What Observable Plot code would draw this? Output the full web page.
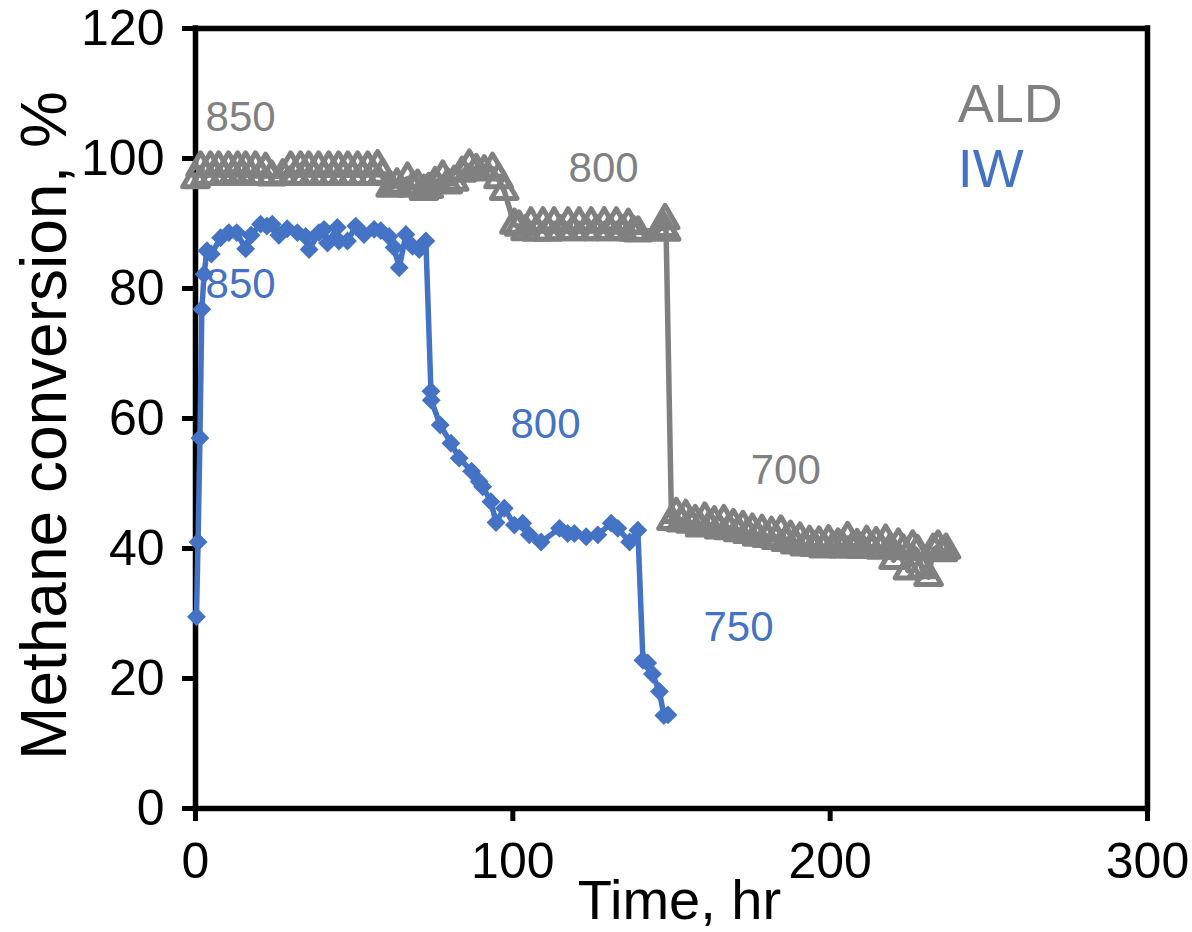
<!DOCTYPE html>
<html>
<head>
<meta charset="utf-8">
<script src="https://cdn.jsdelivr.net/npm/d3@7"></script>
<script src="https://cdn.jsdelivr.net/npm/@observablehq/plot@0.6"></script>
<style>
  html, body { margin: 0; padding: 0; background: white; }
  #chart { width: 1192px; height: 932px; }
  #chart [aria-label="y-axis tick"], #chart [aria-label="x-axis tick"] { stroke-width: 5px; }
</style>
</head>
<body>
<div id="chart"></div>
<script>
// ---- data ----
const xTicks = [0, 100, 200, 300];
const yTicks = [0, 20, 40, 60, 80, 100, 120];
const xDomain = [0, 300];
const yDomain = [0, 120];

const iwTime = [0.3, 0.8, 1.4, 2.0, 2.7, 3.6, 5.0, 7.9, 10.5, 13.0, 15.8, 17.5, 20.5, 22.5, 24.2, 26.3, 28.9, 32.1, 34.7, 35.8, 38.9, 40.5, 41.6, 44.7, 45.2, 47.9, 50.5, 53.1, 56.3, 58.4, 61.0, 62.6, 64.2, 66.3, 68.4, 70.5, 72.6, 74.2, 74.3, 77.1, 80.5, 83.1, 87.0, 89.4, 90.5, 93.1, 94.7, 97.3, 100.5, 103.1, 105.2, 108.9, 114.7, 117.3, 119.4, 123.1, 126.8, 131.0, 133.1, 136.8, 139.4, 141.0, 142.5, 144.0, 146.2, 147.6, 148.9];
const iwConv = [29.5, 41.0, 57.0, 76.8, 82.2, 85.8, 85.3, 87.8, 88.6, 88.6, 86.1, 88.2, 89.9, 89.6, 89.9, 88.2, 89.2, 88.6, 88.0, 86.0, 88.6, 89.1, 87.0, 89.4, 87.3, 87.3, 89.6, 88.3, 89.1, 88.9, 88.0, 86.3, 83.2, 88.3, 86.5, 86.0, 87.3, 64.2, 62.8, 59.0, 56.2, 53.9, 51.9, 50.3, 49.5, 47.2, 44.0, 46.2, 43.6, 43.9, 42.1, 41.0, 43.1, 42.3, 42.3, 41.8, 42.1, 43.9, 43.1, 41.0, 42.8, 22.8, 22.4, 20.7, 18.0, 14.3, 14.4];

const aldTime = [0, 1.6, 3.2, 4.7, 6.0, 7.3, 9.0, 10.4, 12.0, 13.3, 14.5, 15.8, 17.3, 18.9, 20.5, 22.1, 24.0, 27.5, 30.0, 31.5, 33.1, 34.5, 35.7, 37.2, 38.8, 40.5, 42.0, 43.5, 45.1, 46.5, 48.0, 49.5, 51.1, 52.7, 54.3, 56.0, 57.4, 59.0,
  61.5, 63.5, 66.8, 68.5, 70.0, 72.0, 73.5, 75.5, 77.9, 79.5, 81.5, 84.0, 86.3, 88.5, 91.0, 93.6, 95.5, 97.3, 100.5,
  102.0, 104.0, 105.7, 107.5, 109.5, 111.0, 113.0, 115.0, 117.4, 119.0, 120.9, 123.0, 124.7, 126.5, 128.8, 130.5, 132.6, 134.5, 136.4, 138.0, 139.5, 147.5, 148.0, 148.3,
  150.0, 151.5, 153.0, 154.5, 156.0, 157.5, 159.0, 160.5, 162.0, 163.5, 165.0, 166.5, 168.0, 169.5, 171.0, 172.5, 174.0, 175.5, 177.0, 178.5, 180.0, 181.5, 183.0, 184.5, 186.0, 187.5, 189.0, 190.5, 192.0, 193.5, 195.0, 196.5, 198.0, 199.5, 201.0, 202.5, 204.0, 205.5, 207.0, 208.5, 210.0, 211.5, 213.0, 214.5, 216.0, 217.5, 219.0, 220.0, 221.5, 223.0, 224.5, 226.0, 227.5, 229.0, 231.0, 232.5, 234.0, 235.5, 236.5];
const aldConv = [96.8, 98.6, 97.3, 98.6, 97.3, 98.6, 97.3, 98.6, 97.3, 98.6, 97.3, 98.6, 97.3, 98.6, 97.3, 98.4, 97.2, 97.4, 98.6, 97.3, 98.6, 97.3, 98.6, 97.3, 98.6, 97.3, 98.6, 97.3, 98.6, 97.3, 98.6, 97.3, 98.6, 97.3, 98.6, 97.3, 98.8, 97.5,
  95.5, 96.0, 96.9, 95.5, 95.8, 95.0, 95.3, 96.2, 97.2, 96.0, 96.4, 97.8, 98.9, 98.2, 98.0, 98.4, 96.8, 95.0, 89.8,
  89.5, 88.8, 90.0, 88.7, 90.0, 88.7, 90.0, 88.8, 90.0, 88.8, 90.0, 88.8, 90.0, 88.8, 90.0, 88.8, 90.0, 88.8, 89.8, 88.7, 88.6, 89.3, 90.5, 88.7,
  44.2, 45.3, 44.0, 45.0, 43.8, 44.2, 43.2, 44.6, 43.4, 44.0, 42.9, 44.2, 42.8, 43.6, 42.5, 43.3, 42.2, 42.9, 41.8, 42.7, 41.6, 42.4, 41.3, 42.6, 41.0, 41.8, 40.6, 41.5, 40.3, 41.0, 40.2, 40.9, 40.0, 41.1, 40.1, 40.6, 40.0, 41.6, 40.0, 40.5, 39.9, 41.0, 40.0, 40.8, 39.8, 41.2, 39.9, 38.2, 40.6, 39.7, 36.6, 40.3, 39.6, 36.8, 35.6, 39.8, 40.3, 39.4, 39.8];

const annText = ["850", "800", "700", "850", "800", "750"];
const annX = [14.2, 128.6, 186.0, 14.2, 110.3, 171.1];
const annY = [106.3, 98.5, 52.0, 80.6, 59.1, 27.8];
const annSeries = ["ALD", "ALD", "ALD", "IW", "IW", "IW"];

const legendNames = ["ALD", "IW"];
const legendX = [240.2, 240.2];
const legendY = [108.3, 98.2];

const xLabel = "Time, hr";
const yLabel = "Methane conversion, %";

// ---- build ----
const BLUE = "#4472C4";
const GRAY = "#808080";
const colorOf = s => s === "IW" ? BLUE : GRAY;

const iw = iwTime.map((t, i) => ({t, v: iwConv[i]}));
const ald = aldTime.map((t, i) => ({t, v: aldConv[i]}));
const ann = annText.map((s, i) => ({s, x: annX[i], y: annY[i], c: colorOf(annSeries[i])}));
const leg = legendNames.map((s, i) => ({s, x: legendX[i], y: legendY[i], c: colorOf(s)}));

const FONT = "'Liberation Sans', Arial, Helvetica, sans-serif";

const chart = Plot.plot({
  width: 1192,
  height: 932,
  marginLeft: 195,
  marginRight: 45,
  marginTop: 28,
  marginBottom: 124,
  style: {fontFamily: FONT, fontSize: "50px", color: "black", background: "white", overflow: "visible"},
  x: {domain: xDomain},
  y: {domain: yDomain},
  marks: [
    Plot.axisY({ticks: yTicks, tickSize: 13, tickPadding: 18, strokeWidth: 5, label: null, fontSize: 50}),
    Plot.axisX({ticks: xTicks, tickSize: 13, tickPadding: 21, strokeWidth: 5, label: null, fontSize: 50}),
    Plot.ruleX(xDomain, {stroke: "black", strokeWidth: 5.5, strokeLinecap: "square"}),
    Plot.ruleY(yDomain, {stroke: "black", strokeWidth: 5.5, strokeLinecap: "square"}),
    Plot.line(ald, {x: "t", y: "v", stroke: GRAY, strokeWidth: 5.5}),
    Plot.dot(ald, {x: "t", y: "v", symbol: "triangle", r: 9.5, stroke: GRAY, strokeWidth: 5, fill: "none", strokeLinejoin: "round"}),
    Plot.line(iw, {x: "t", y: "v", stroke: BLUE, strokeWidth: 5.5}),
    Plot.dot(iw, {x: "t", y: "v", symbol: "diamond2", r: 8.5, fill: BLUE, stroke: "none"}),
    Plot.text(ann, {x: "x", y: "y", text: "s", fill: "c", fontSize: 42}),
    Plot.text(leg, {x: "x", y: "y", text: "s", fill: "c", fontSize: 54, textAnchor: "start"}),
    Plot.text([xLabel], {frameAnchor: "bottom", dx: 8, dy: 110, fontSize: 56, fill: "black"}),
    Plot.text([yLabel], {frameAnchor: "left", textAnchor: "middle", rotate: -90, dx: -150, dy: 7, fontSize: 64, fill: "black"})
  ]
});
document.getElementById("chart").appendChild(chart);
</script>
</body>
</html>
